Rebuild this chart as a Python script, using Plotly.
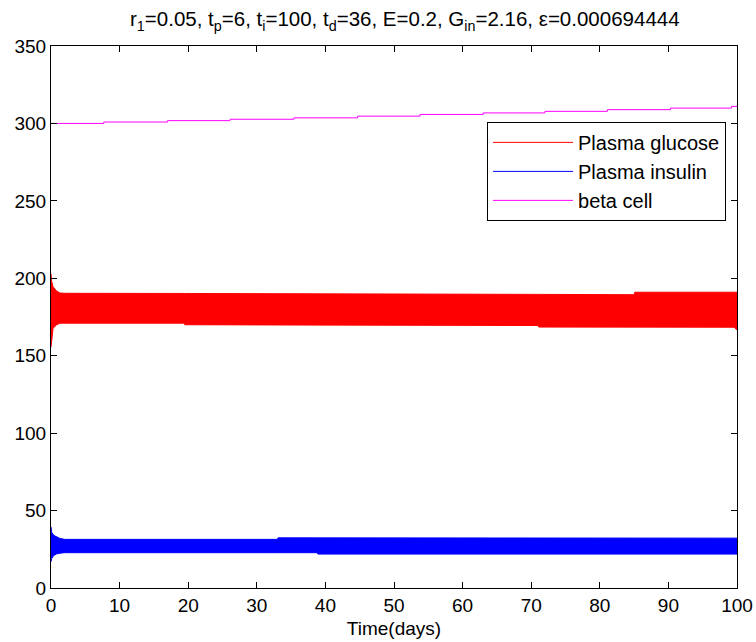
import plotly.graph_objects as go

# Plasma glucose oscillation envelope (upper / lower)
glu_t = [0, 0.1, 0.3, 0.8, 1.3, 2.0, 19.4, 19.5, 71.0, 71.1, 85.0, 85.1, 99.6, 100]
glu_hi = [203.0, 198.0, 194.6, 191.8, 190.5, 190.3, 190.2, 190.2, 189.6, 189.6, 189.4, 191.0, 191.0, 191.0]
glu_lo = [155.5, 160.0, 167.7, 169.9, 171.0, 171.0, 171.0, 170.0, 169.5, 168.5, 168.5, 168.5, 168.4, 166.5]

# Plasma insulin oscillation envelope
ins_t = [0, 0.1, 0.4, 0.8, 1.3, 2.0, 33.0, 33.1, 38.8, 38.9, 100]
ins_hi = [39.5, 36.0, 34.0, 33.0, 32.0, 31.4, 31.4, 32.4, 32.4, 32.2, 32.2]
ins_lo = [17.0, 19.0, 21.0, 22.0, 22.5, 22.8, 22.8, 22.8, 22.8, 21.9, 21.9]

# beta cell (staircase)
beta_t = [0, 7.7, 17.0, 26.1, 35.4, 44.7, 53.8, 63.0, 72.0, 81.1, 90.3, 99.2, 100]
beta_v = [300.0, 300.9, 301.8, 302.7, 303.6, 304.7, 305.8, 306.8, 307.8, 308.9, 309.9, 311.0, 311.5]

x_ticks = [0, 10, 20, 30, 40, 50, 60, 70, 80, 90, 100]
y_ticks = [0, 50, 100, 150, 200, 250, 300, 350]

FONT = "Liberation Sans, Arial, Helvetica, sans-serif"
RED, BLUE, MAGENTA = "#ff0000", "#0000ff", "#ff00ff"

fig = go.Figure()
# bands
fig.add_trace(go.Scatter(x=glu_t, y=glu_hi, mode="lines", showlegend=False,
                         line=dict(color=RED, width=1)))
fig.add_trace(go.Scatter(x=glu_t, y=glu_lo, mode="lines", showlegend=False,
                         line=dict(color=RED, width=1),
                         fill="tonexty", fillcolor=RED))
fig.add_trace(go.Scatter(x=ins_t, y=ins_hi, mode="lines", showlegend=False,
                         line=dict(color=BLUE, width=1)))
fig.add_trace(go.Scatter(x=ins_t, y=ins_lo, mode="lines", showlegend=False,
                         line=dict(color=BLUE, width=1),
                         fill="tonexty", fillcolor=BLUE))
fig.add_trace(go.Scatter(x=beta_t, y=beta_v, mode="lines", showlegend=False,
                         line=dict(color=MAGENTA, width=1, shape="hv")))
# legend entries
fig.add_trace(go.Scatter(x=[None], y=[None], mode="lines", name="Plasma glucose",
                         line=dict(color=RED, width=1)))
fig.add_trace(go.Scatter(x=[None], y=[None], mode="lines", name="Plasma insulin",
                         line=dict(color=BLUE, width=1)))
fig.add_trace(go.Scatter(x=[None], y=[None], mode="lines", name="beta cell",
                         line=dict(color=MAGENTA, width=1)))

axis_common = dict(showline=True, linecolor="black", linewidth=1, mirror="ticks",
                   ticks="inside", ticklen=6, tickcolor="black", showgrid=False,
                   zeroline=False, automargin=False,
                   tickfont=dict(family=FONT, size=19, color="black"))

fig.update_xaxes(range=[0, 100], tickvals=x_ticks,
                 title=dict(text="Time(days)", font=dict(family=FONT, size=19, color="black"),
                            standoff=6),
                 **axis_common)
fig.update_yaxes(range=[0, 350], tickvals=y_ticks, **axis_common)

fig.update_layout(
    width=756, height=642,
    margin=dict(l=51, r=19, t=46, b=54),
    paper_bgcolor="white", plot_bgcolor="white",
    title=dict(text="r<sub>1</sub>=0.05, t<sub>p</sub>=6, t<sub>i</sub>=100, t<sub>d</sub>=36, E=0.2, G<sub>in</sub>=2.16, ε=0.000694444",
               x=130 / 756, xref="container", xanchor="left",
               y=0.97, yref="container", yanchor="middle",
               font=dict(family=FONT, size=20.5, color="black")),
    legend=dict(x=0.6356, y=0.86, xanchor="left", yanchor="top",
                bgcolor="white", bordercolor="black", borderwidth=1,
                font=dict(family=FONT, size=20, color="black"),
                itemwidth=80, tracegroupgap=0, traceorder="normal"),
    showlegend=True,
)

fig.write_html("out.html")
